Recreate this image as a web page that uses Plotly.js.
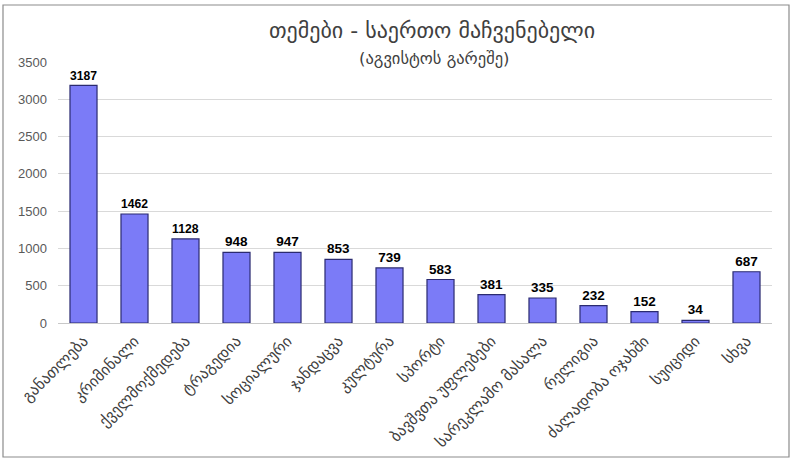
<!DOCTYPE html>
<html>
<head>
<meta charset="utf-8">
<script src="https://cdn.plot.ly/plotly-3.0.1.min.js"></script>
<style>html,body{margin:0;padding:0;background:#fff;}#chart{width:799px;height:466px;}</style>
</head>
<body>
<div id="chart"></div>
<script>
const categories = ["განათლება","კრიმინალი","ქველმოქმედება","ტრაგედია","სოციალური","ჯანდაცვა","კულტურა","სპორტი","ბავშვთა უფლებები","სარეკლამო მასალა","რელიგია","ძალადობა ოჯახში","სუიციდი","სხვა"];
const values = [3187,1462,1128,948,947,853,739,583,381,335,232,152,34,687];
const yTicks = [0,500,1000,1500,2000,2500,3000,3500];
const titleText = "თემები - საერთო მაჩვენებელი";
const subtitleText = "(აგვისტოს გარეშე)";

const L = 58, R = 27, T = 62, B = 143;
const W = 799, H = 466;
const pw = W - L - R, ph = H - T - B;
const px = x => (x - L) / pw;
const py = y => (H - B - y) / ph;

const trace = {
  type: 'bar',
  x: categories,
  y: values,
  marker: {color: '#7b7bf7', line: {color: '#2b2b70', width: 1.2}},
  text: values.map(String),
  textposition: 'outside',
  textfont: {family: 'Liberation Sans, Arial, sans-serif', size: 13.5, color: '#000000', weight: 'bold'},
  cliponaxis: false,
  hoverinfo: 'skip'
};

const layout = {
  width: W, height: H,
  margin: {l: L, r: R, t: T, b: B},
  paper_bgcolor: '#ffffff', plot_bgcolor: '#ffffff',
  bargap: 0.47,
  showlegend: false,
  xaxis: {
    type: 'category',
    tickangle: -45,
    tickfont: {family: 'DejaVu Sans, sans-serif', size: 15.5, color: '#404040'},
    showgrid: false, zeroline: false, showline: false, ticks: '', ticklabelstandoff: 5
  },
  yaxis: {
    range: [0, 3500],
    tickvals: yTicks,
    ticktext: yTicks.map(String),
    tickfont: {family: 'Liberation Sans, Arial, sans-serif', size: 13, color: '#595959'},
    showgrid: true, gridcolor: '#d9d9d9', gridwidth: 1,
    zeroline: true, zerolinecolor: '#c8c8c8', zerolinewidth: 1,
    showline: false, ticks: '', ticklabelstandoff: 10
  },
  annotations: [
    {text: titleText, xref: 'paper', yref: 'paper', x: px(432), y: py(30), showarrow: false,
     xanchor: 'center', yanchor: 'middle', font: {family: 'DejaVu Sans, sans-serif', size: 22, color: '#404040'}},
    {text: subtitleText, xref: 'paper', yref: 'paper', x: px(434), y: py(58), showarrow: false,
     xanchor: 'center', yanchor: 'middle', font: {family: 'DejaVu Sans, sans-serif', size: 16.5, color: '#404040'}}
  ],
  shapes: [
    {type: 'rect', xref: 'paper', yref: 'paper', x0: px(3), x1: px(789), y0: py(457), y1: py(5),
     line: {color: '#8c8c8c', width: 1.2}, fillcolor: 'rgba(0,0,0,0)', layer: 'below'}
  ]
};

Plotly.newPlot('chart', [trace], layout, {displayModeBar: false, staticPlot: true});
</script>
</body>
</html>
